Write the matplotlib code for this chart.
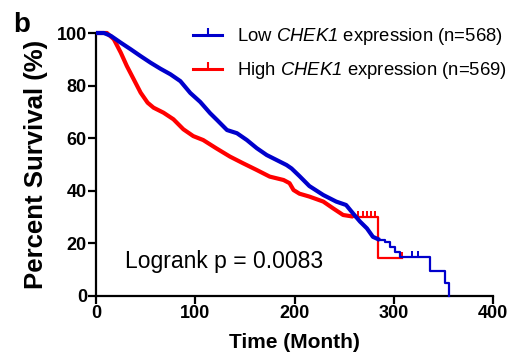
import numpy as np
import matplotlib
matplotlib.use("Agg")
import matplotlib.pyplot as plt
from matplotlib.lines import Line2D

plt.rcParams['font.family'] = ['Liberation Sans', 'DejaVu Sans']
plt.rcParams['mathtext.fontset'] = 'custom'
plt.rcParams['mathtext.it'] = 'Liberation Sans:italic'
plt.rcParams['mathtext.rm'] = 'Liberation Sans:italic'

# ---- data ----
low_time = [0, 8, 15, 25, 35, 45, 55, 65, 75, 85, 95, 105, 115, 122, 132, 142,
            152, 162, 172, 182, 192, 197, 205, 215, 229, 242, 252, 259, 266,
            273, 279, 286, 291, 296, 301, 306, 336.5, 351.5, 356]
low_surv = [100, 100, 98.9, 96.3, 93.8, 91.2, 88.7, 86.4, 84.3, 81.7, 77.2,
            73.8, 69.5, 66.9, 63.1, 61.9, 59.3, 56.2, 53.6, 51.7, 49.8, 48.5,
            45.6, 41.8, 38.4, 35.9, 34.6, 31.4, 28.3, 25.7, 22.5, 21.3, 20.6,
            18.7, 16.8, 14.9, 9.5, 4.8, 0]
low_censor = [318, 324]

high_time = [0, 11, 18, 25, 31, 38, 45, 52, 58, 68, 78, 88, 98, 108, 121, 135,
             148, 162, 175, 189, 195, 199, 205, 215, 229, 239, 249, 259,
             284.5, 308]
high_surv = [100, 100, 97.6, 92.5, 87.5, 82.4, 77.3, 73.5, 71.6, 69.7, 67.2,
             63.4, 60.8, 59.3, 56.2, 53.0, 50.5, 47.9, 45.4, 44.1, 42.9, 40.3,
             38.9, 37.8, 35.9, 33.3, 30.8, 30.2, 14.6, 14.6]
high_censor = [264, 269, 273, 277, 281, 308]

low_label = "Low $CHEK1$ expression (n=568)"
high_label = "High $CHEK1$ expression (n=569)"
pvalue_text = "Logrank p = 0.0083"
x_ticks = [0, 100, 200, 300, 400]
y_ticks = [0, 20, 40, 60, 80, 100]

blue = '#0000CC'
red = '#FF0000'

W, H = 511, 360
fig = plt.figure(figsize=(W / 100, H / 100), dpi=100)
ax = fig.add_axes([96 / W, 1 - 296 / H, (493 - 96) / W, (296 - 33) / H])

TICKUP = 2


def draw_curve(t, s, cens, color, dense_until):
    t = np.asarray(t, float)
    s = np.asarray(s, float)
    m = t <= dense_until
    # dense part: many small steps -> appears as a thick continuous line
    ax.plot(t[m], s[m], color=color, lw=3.0, solid_capstyle='butt',
            clip_on=False, zorder=3)
    # sparse tail: explicit steps
    k = np.where(m)[0][-1]
    ax.plot(t[k:], s[k:], drawstyle='steps-post', color=color, lw=1.6,
            clip_on=False, zorder=3)
    c = np.asarray(cens, float)
    idx = np.searchsorted(t, c, side='right') - 1
    ax.plot(c, s[idx], ls='none', marker=TICKUP, ms=4, mew=1.4, color=color,
            clip_on=False, zorder=3)


draw_curve(high_time, high_surv, high_censor, red, 259)
draw_curve(low_time, low_surv, low_censor, blue, 286)

ax.set_xlim(0, 400)
ax.set_ylim(0, 100)
ax.set_xticks(x_ticks)
ax.set_yticks(y_ticks)
for sp in ['top', 'right']:
    ax.spines[sp].set_visible(False)
for sp in ['left', 'bottom']:
    ax.spines[sp].set_linewidth(1.6)
ax.tick_params(direction='out', length=5.5, width=1.6, labelsize=13, pad=1)
for lab in ax.get_xticklabels() + ax.get_yticklabels():
    lab.set_fontweight('bold')

ax.set_xlabel('Time (Month)', fontsize=15, fontweight='bold', labelpad=8)
ax.set_ylabel('Percent Survival (%)', fontsize=18.5, fontweight='bold', labelpad=6)

ax.text(29, 10.6, pvalue_text, fontsize=16.5, va='baseline', ha='left')
fig.text(13 / W, 1 - 31.5 / H, 'b', fontsize=20, fontweight='bold',
         va='baseline', ha='left')

handles = [Line2D([], [], color=blue, lw=2.2, marker=TICKUP, ms=5, mew=1.5),
           Line2D([], [], color=red, lw=2.2, marker=TICKUP, ms=5, mew=1.5)]
ax.legend(handles, [low_label, high_label], loc='upper left',
          bbox_to_anchor=(193 / W, 1 - 26 / H), bbox_transform=fig.transFigure,
          frameon=False, fontsize=13.3, borderpad=0, borderaxespad=0,
          handlelength=1.57, handletextpad=0.8, labelspacing=0.72)

fig.savefig('out.png', dpi=100)
